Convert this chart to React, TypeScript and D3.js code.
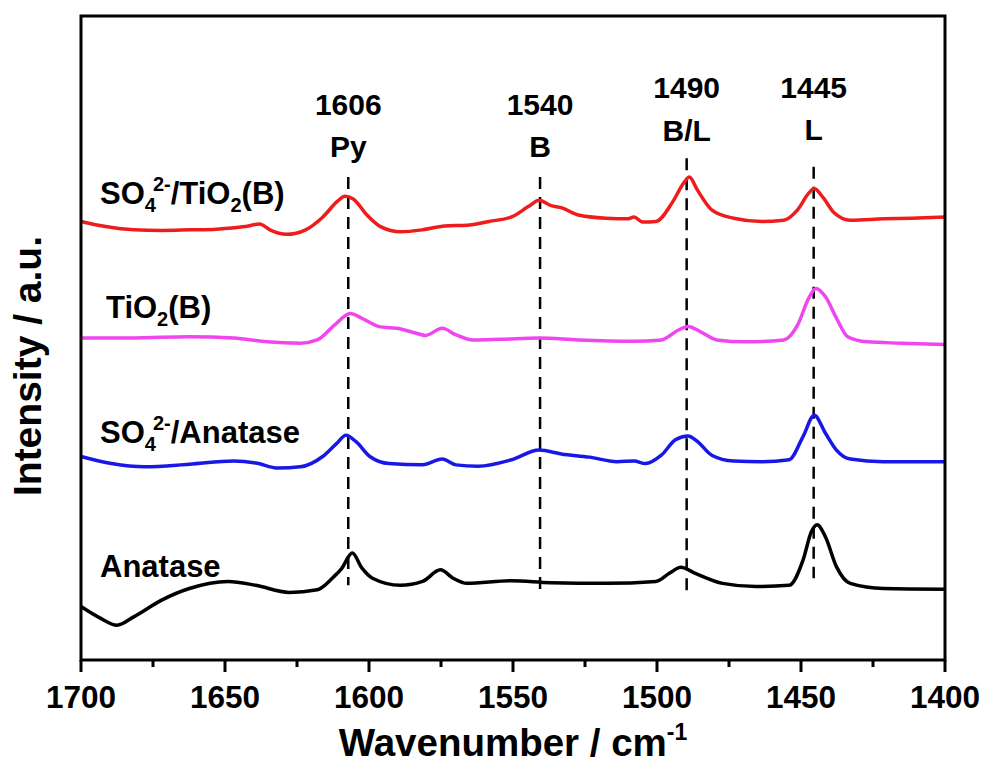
import React from "react";
import * as d3 from "d3";

// ---------- data ----------
const majorTicks = [1700, 1650, 1600, 1550, 1500, 1450, 1400];
const minorTicks = [1675, 1625, 1575, 1525, 1475, 1425];
const tickLabels = ["1700", "1650", "1600", "1550", "1500", "1450", "1400"];

const wnRed = [1700, 1691.4, 1681.7, 1672, 1662, 1653, 1643, 1638, 1634.4, 1628.7, 1622, 1616, 1611, 1608.4, 1605.5, 1600.7, 1596, 1589, 1581.4, 1573.7, 1566, 1558.3, 1550.5, 1544.7, 1540.9, 1537, 1533, 1527.4, 1517.7, 1510, 1508, 1505, 1500.4, 1494.6, 1490.7, 1488.8, 1486, 1481, 1473.4, 1463.7, 1456, 1451.2, 1447.3, 1445.4, 1442.5, 1438.6, 1432.9, 1421.3, 1411.6, 1400];
const intRed = [68.1, 67.3, 66.8, 66.7, 66.8, 66.9, 67.3, 67.7, 66.8, 66.1, 66.8, 68.8, 71.2, 72.0, 71.6, 69.1, 67.3, 66.5, 66.8, 67.4, 67.5, 68.1, 68.8, 70.4, 71.4, 70.6, 70.2, 69.1, 68.6, 68.5, 68.8, 68.0, 68.1, 71.1, 74.1, 75.0, 73.0, 69.9, 68.6, 68.1, 68.3, 69.9, 72.5, 73.2, 71.9, 69.5, 68.3, 68.5, 68.6, 68.8];

const wnMagenta = [1700, 1681.7, 1662.4, 1647, 1635.4, 1623.8, 1618, 1612, 1606.5, 1602.6, 1596.8, 1589, 1583.3, 1580.4, 1574.6, 1569.8, 1564, 1554.4, 1540.9, 1527.4, 1508, 1498.5, 1492.7, 1489.2, 1485, 1479.2, 1469.5, 1456, 1451.2, 1447.3, 1444.8, 1441.5, 1437.7, 1433.8, 1427, 1415.5, 1400];
const intMagenta = [50.0, 50.0, 50.2, 50.0, 49.4, 49.2, 49.7, 52.0, 53.8, 53.1, 51.8, 51.4, 50.7, 50.4, 51.5, 50.5, 49.7, 49.8, 50.0, 49.7, 49.5, 49.7, 51.2, 51.8, 51.0, 49.7, 49.4, 49.7, 52.0, 56.2, 57.7, 56.4, 53.1, 50.2, 49.4, 49.2, 49.0];

const wnBlue = [1700, 1689.4, 1677.9, 1662.4, 1647, 1639.3, 1631.6, 1623.8, 1616.1, 1611.3, 1608, 1604.5, 1599.7, 1593, 1581.4, 1574.6, 1569.8, 1562.1, 1550.5, 1540.9, 1533.2, 1523.5, 1513.9, 1508, 1504, 1498.5, 1493.6, 1489.2, 1485.9, 1481, 1473.4, 1463.7, 1454.1, 1449.3, 1445.4, 1441.5, 1437.7, 1432.9, 1421.3, 1400];
const intBlue = [31.6, 30.5, 30.0, 30.4, 30.9, 30.6, 29.8, 30.0, 31.6, 33.6, 34.9, 33.9, 31.6, 30.5, 30.3, 31.2, 30.3, 30.1, 31.1, 32.6, 32.0, 31.5, 30.8, 30.9, 30.5, 31.8, 34.2, 34.8, 33.9, 31.8, 30.9, 30.8, 31.1, 34.7, 38.0, 35.2, 32.6, 31.2, 30.8, 30.8];

const wnBlack = [1700, 1693.3, 1687.5, 1681.7, 1672, 1662.4, 1648.9, 1639.3, 1627.7, 1618, 1612.3, 1609.5, 1605.8, 1602.5, 1598.8, 1589.1, 1581.4, 1575.2, 1570.8, 1566, 1550.5, 1537, 1517.7, 1500.4, 1495.6, 1491.7, 1486.9, 1477.2, 1465.7, 1454.1, 1449.3, 1446.4, 1444.4, 1441.5, 1437.7, 1432.9, 1421.3, 1400];
const intBlack = [8.3, 6.5, 5.4, 6.7, 9.3, 11.1, 12.2, 11.6, 10.5, 10.9, 12.9, 14.2, 16.6, 14.3, 12.7, 11.6, 12.2, 14.0, 12.7, 11.9, 12.3, 12.0, 11.9, 12.2, 13.5, 14.4, 13.5, 11.9, 11.4, 11.6, 15.5, 19.9, 21.0, 19.1, 14.5, 11.9, 11.1, 11.0];

const peakPositions = [1607.2, 1540.6, 1489.7, 1445.6];
const peakNumbers = ["1606", "1540", "1490", "1445"];
const peakNames = ["Py", "B", "B/L", "L"];
const dashTop = [75.0, 75.0, 77.9, 76.6];
const dashBottom = [11.6, 10.9, 10.2, 12.7];

const seriesNames = ["SO4/TiO2(B)", "TiO2(B)", "SO4/Anatase", "Anatase"];

// ---------- layout / style ----------
const W = 987;
const H = 767;
const M = { left: 81, right: 945, top: 16, bottom: 660 };
const FONT = "'Liberation Sans', Arial, Helvetica, sans-serif";
const colors = ["#ee1c1c", "#f046f0", "#1818e6", "#000000"];

export default function App() {
  const x = d3.scaleLinear().domain([1700, 1400]).range([M.left, M.right]);
  const y = d3.scaleLinear().domain([0, 100]).range([M.bottom, M.top]);
  const line = d3
    .line<[number, number]>()
    .x((d) => x(d[0]))
    .y((d) => y(d[1]))
    .curve(d3.curveMonotoneX);

  const series = [
    { wn: wnRed, v: intRed },
    { wn: wnMagenta, v: intMagenta },
    { wn: wnBlue, v: intBlue },
    { wn: wnBlack, v: intBlack },
  ];

  const numY = [115, 115, 98, 98];
  const nameY = [157, 157, 141, 140];
  const fs = 31;
  const sub = 20;

  const labelY = [204, 318, 443, 577];
  const labelX = [100, 106, 100, 100];

  return (
    <svg
      width={W}
      height={H}
      style={{ position: "absolute", left: 0, top: 0, display: "block", background: "#fff" }}
      fontFamily={FONT}
      fontWeight="bold"
    >
      {/* dashed peak lines */}
      {peakPositions.map((p, i) => (
        <line
          key={"d" + i}
          x1={x(p)}
          x2={x(p)}
          y1={y(dashTop[i])}
          y2={y(dashBottom[i])}
          stroke="#000"
          strokeWidth={2.5}
          strokeDasharray="12,8"
        />
      ))}

      {/* curves */}
      {series.map((s, i) => (
        <path
          key={"s" + i}
          d={line(s.wn.map((w, j) => [w, s.v[j]] as [number, number])) || ""}
          fill="none"
          stroke={colors[i]}
          strokeWidth={3.5}
          strokeLinejoin="round"
        />
      ))}

      {/* frame */}
      <rect
        x={M.left}
        y={M.top}
        width={M.right - M.left}
        height={M.bottom - M.top}
        fill="none"
        stroke="#000"
        strokeWidth={3}
      />

      {/* ticks */}
      {majorTicks.map((t, i) => (
        <g key={"t" + i}>
          <line x1={x(t)} x2={x(t)} y1={M.bottom} y2={M.bottom + 12} stroke="#000" strokeWidth={3} />
          <text x={x(t)} y={708} textAnchor="middle" fontSize={31.5}>
            {tickLabels[i]}
          </text>
        </g>
      ))}
      {minorTicks.map((t, i) => (
        <line key={"m" + i} x1={x(t)} x2={x(t)} y1={M.bottom} y2={M.bottom + 7} stroke="#000" strokeWidth={3} />
      ))}

      {/* peak labels */}
      {peakPositions.map((p, i) => (
        <g key={"p" + i}>
          <text x={x(p)} y={numY[i]} textAnchor="middle" fontSize={30}>
            {peakNumbers[i]}
          </text>
          <text x={x(p)} y={nameY[i]} textAnchor="middle" fontSize={30}>
            {peakNames[i]}
          </text>
        </g>
      ))}

      {/* series labels */}
      <text x={labelX[0]} y={labelY[0]} fontSize={fs} aria-label={seriesNames[0]}>
        SO
        <tspan fontSize={sub} dy={8}>4</tspan>
        <tspan fontSize={sub} dy={-21} dx={-3}>2-</tspan>
        <tspan dy={13}>/TiO</tspan>
        <tspan fontSize={sub} dy={8}>2</tspan>
        <tspan dy={-8}>(B)</tspan>
      </text>
      <text x={labelX[1]} y={labelY[1]} fontSize={fs} aria-label={seriesNames[1]}>
        TiO
        <tspan fontSize={sub} dy={8}>2</tspan>
        <tspan dy={-8}>(B)</tspan>
      </text>
      <text x={labelX[2]} y={labelY[2]} fontSize={fs} aria-label={seriesNames[2]}>
        SO
        <tspan fontSize={sub} dy={8}>4</tspan>
        <tspan fontSize={sub} dy={-21} dx={-3}>2-</tspan>
        <tspan dy={13}>/Anatase</tspan>
      </text>
      <text x={labelX[3]} y={labelY[3]} fontSize={fs} aria-label={seriesNames[3]}>
        Anatase
      </text>

      {/* axis titles */}
      <text x={(M.left + M.right) / 2} y={756} textAnchor="middle" fontSize={38.5}>
        Wavenumber / cm
        <tspan fontSize={23} dy={-16}>-1</tspan>
      </text>
      <text
        transform={`translate(41, 366) rotate(-90)`}
        textAnchor="middle"
        fontSize={39}
      >
        Intensity / a.u.
      </text>
    </svg>
  );
}
